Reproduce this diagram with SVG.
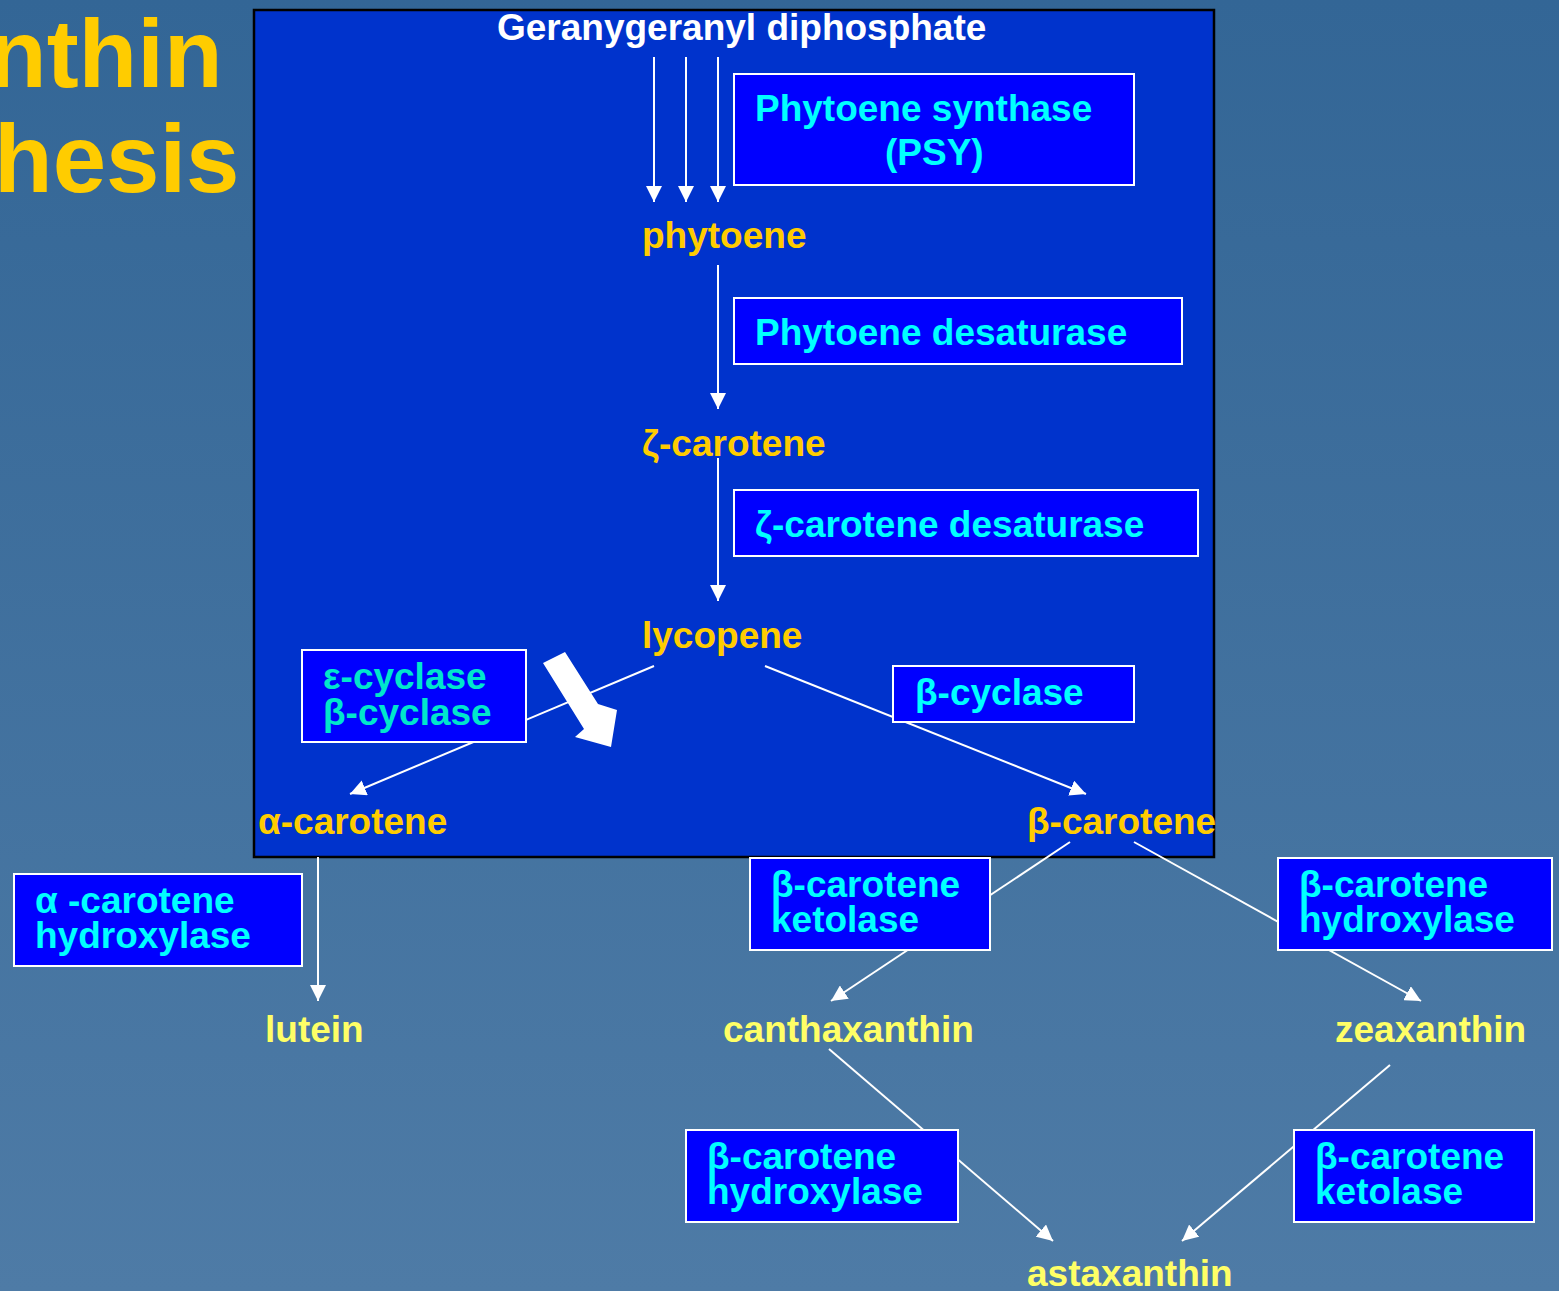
<svg xmlns="http://www.w3.org/2000/svg" width="1559" height="1291" viewBox="0 0 1559 1291">
<defs>
<linearGradient id="bg" x1="0" y1="0" x2="0" y2="1">
<stop offset="0" stop-color="#336696"/>
<stop offset="1" stop-color="#4e7ba6"/>
</linearGradient>
<marker id="ah" markerUnits="userSpaceOnUse" markerWidth="18" markerHeight="16" refX="16" refY="8" orient="auto">
<path d="M0,0 L16,8 L0,16 z" fill="#ffffff"/>
</marker>
<style>
text{font-family:"Liberation Sans",Arial,sans-serif;font-weight:bold;font-size:37px}
.title{font-size:96px;fill:#ffcc00}
.gold{fill:#ffcc00}
.yel{fill:#ffff66}
.white{fill:#ffffff}
.cy{fill:#00ffff}
.teal{fill:#00e6cc}
.box{fill:#0000ff;stroke:#ffffff;stroke-width:2}
.conn line{stroke:#ffffff;stroke-width:2;fill:none}
.arr{marker-end:url(#ah)}
</style>
</defs>
<rect x="0" y="0" width="1559" height="1291" fill="url(#bg)"/>
<g id="title">
<text class="title" x="-12" y="87">nthin</text>
<text class="title" x="-6" y="192">hesis</text>
</g>
<rect id="panel" x="254" y="10" width="960" height="847" fill="#0033cc" stroke="#000000" stroke-width="2.5"/>
<g id="connectors" class="conn">
<line class="arr" x1="654" y1="57" x2="654" y2="202"/>
<line class="arr" x1="686" y1="57" x2="686" y2="202"/>
<line class="arr" x1="718" y1="57" x2="718" y2="202"/>
<line class="arr" x1="718" y1="265" x2="718" y2="409"/>
<line class="arr" x1="718" y1="458" x2="718" y2="601"/>
<line class="arr" x1="654" y1="666" x2="350" y2="794"/>
<line class="arr" x1="765" y1="666" x2="1086" y2="794"/>
<line class="arr" x1="318" y1="857" x2="318" y2="1001"/>
<line class="arr" x1="1070" y1="842" x2="831" y2="1001"/>
<line class="arr" x1="1134" y1="842" x2="1421" y2="1001"/>
<line class="arr" x1="829" y1="1049" x2="1053" y2="1241"/>
<line class="arr" x1="1390" y1="1065" x2="1182" y2="1241"/>
<polygon points="543,663 565,652 598,704 617,710 611,747 575,737 584,729" fill="#ffffff"/>
</g>
<g id="ggpp"><text class="white" x="497" y="40">Geranygeranyl diphosphate</text></g>
<g id="phytoene"><text class="gold" x="642" y="248">phytoene</text></g>
<g id="zeta-carotene"><text class="gold" x="642" y="456">ζ-carotene</text></g>
<g id="lycopene"><text class="gold" x="642" y="648">lycopene</text></g>
<g id="alpha-carotene"><text class="gold" x="258" y="834">α-carotene</text></g>
<g id="beta-carotene"><text class="gold" x="1027" y="834">β-carotene</text></g>
<g id="lutein"><text class="yel" x="265" y="1042">lutein</text></g>
<g id="canthaxanthin"><text class="yel" x="723" y="1042">canthaxanthin</text></g>
<g id="zeaxanthin"><text class="yel" x="1335" y="1042">zeaxanthin</text></g>
<g id="astaxanthin"><text class="yel" x="1027" y="1286">astaxanthin</text></g>
<g id="psy">
<rect class="box" x="734" y="74" width="400" height="111"/>
<text class="cy" x="755" y="121">Phytoene synthase</text>
<text class="cy" x="885" y="165">(PSY)</text>
</g>
<g id="pds">
<rect class="box" x="734" y="298" width="448" height="66"/>
<text class="cy" x="755" y="345">Phytoene desaturase</text>
</g>
<g id="zds">
<rect class="box" x="734" y="490" width="464" height="66"/>
<text class="cy" x="755" y="537">ζ-carotene desaturase</text>
</g>
<g id="eb-cyclase">
<rect class="box" x="302" y="650" width="224" height="92"/>
<text class="teal" x="323" y="689">ε-cyclase</text>
<text class="teal" x="323" y="725">β-cyclase</text>
</g>
<g id="b-cyclase">
<rect class="box" x="893" y="666" width="241" height="56"/>
<text class="cy" x="915" y="705">β-cyclase</text>
</g>
<g id="a-hydroxylase">
<rect class="box" x="14" y="874" width="288" height="92"/>
<text class="cy" x="35" y="913">α -carotene</text>
<text class="cy" x="35" y="948">hydroxylase</text>
</g>
<g id="b-ketolase-1">
<rect class="box" x="750" y="858" width="240" height="92"/>
<text class="cy" x="771" y="897">β-carotene</text>
<text class="cy" x="771" y="932">ketolase</text>
</g>
<g id="b-hydroxylase-1">
<rect class="box" x="1278" y="858" width="274" height="92"/>
<text class="cy" x="1299" y="897">β-carotene</text>
<text class="cy" x="1299" y="932">hydroxylase</text>
</g>
<g id="b-hydroxylase-2">
<rect class="box" x="686" y="1130" width="272" height="92"/>
<text class="cy" x="707" y="1169">β-carotene</text>
<text class="cy" x="707" y="1204">hydroxylase</text>
</g>
<g id="b-ketolase-2">
<rect class="box" x="1294" y="1130" width="240" height="92"/>
<text class="cy" x="1315" y="1169">β-carotene</text>
<text class="cy" x="1315" y="1204">ketolase</text>
</g>
</svg>
